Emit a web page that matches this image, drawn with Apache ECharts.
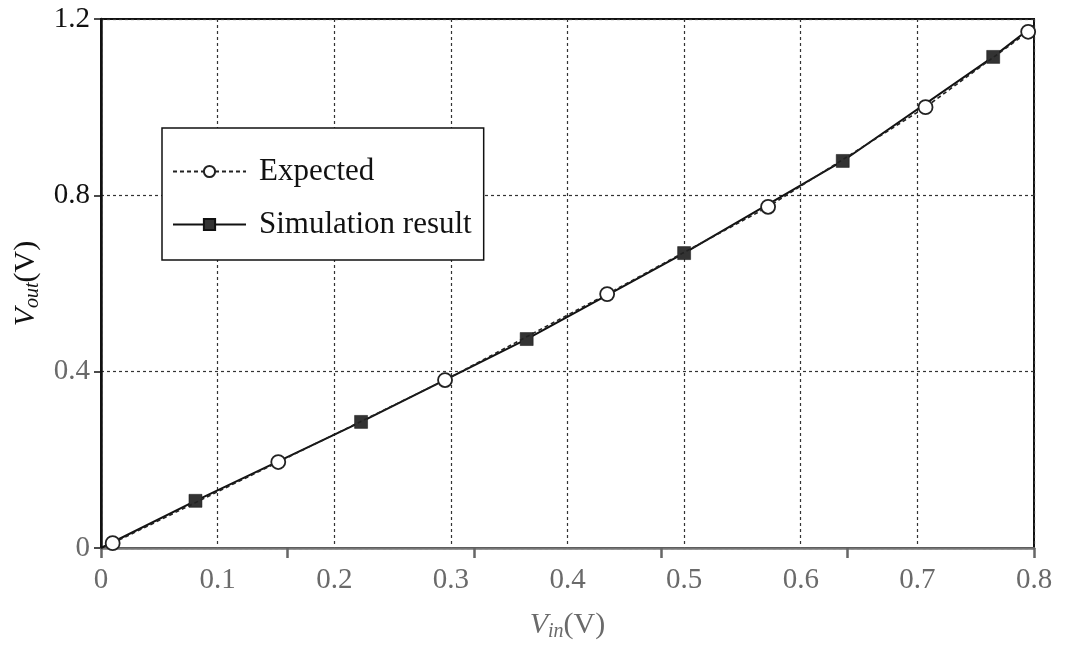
<!DOCTYPE html>
<html>
<head>
<meta charset="utf-8">
<script src="https://cdn.jsdelivr.net/npm/echarts@6/dist/echarts.min.js"></script>
<style>
    html, body { margin: 0; padding: 0; background: #fff; }
    #chart { width: 1067px; height: 645px; }
</style>
</head>
<body>
<div id="chart"></div>
<script>
// values
const expectedVin  = [0.010, 0.152, 0.295, 0.434, 0.572, 0.707, 0.795];
const expectedVout = [0.011, 0.195, 0.381, 0.576, 0.774, 1.000, 1.171];

// first and last points are line ends, no marker
const simVin  = [0.000, 0.081, 0.223, 0.365, 0.500, 0.636, 0.765, 0.800];
const simVout = [0.000, 0.107, 0.286, 0.474, 0.669, 0.878, 1.114, 1.186];

const seriesNames = ['Expected', 'Simulation result'];
const xTicks = [0, 0.1, 0.2, 0.3, 0.4, 0.5, 0.6, 0.7, 0.8];
const yTicks = [0, 0.4, 0.8, 1.2];

const serif = '"Liberation Serif", "DejaVu Serif", serif';
const lowGray = '#6a6a6a';

const toPairs = (xs, ys) => xs.map((x, i) => [x, ys[i]]);

const simData = toPairs(simVin, simVout).map((p, i, arr) =>
    (i === 0 || i === arr.length - 1) ? {value: p, symbol: 'none'} : {value: p});

const nameRich = {
    it: {fontFamily: serif, fontStyle: 'italic', fontSize: 30, color: lowGray},
    sub: {fontFamily: serif, fontStyle: 'italic', fontSize: 20, color: lowGray, padding: [14, 0, 0, 0]},
    n: {fontFamily: serif, fontSize: 30, color: lowGray},
};

const chart = echarts.init(document.getElementById('chart'));
chart.setOption({
    animation: false,
    backgroundColor: '#fff',
    grid: {
        left: 101, right: 33, top: 19, bottom: 97,
        outerBoundsMode: 'none',
        containLabel: false,
        show: true, borderColor: '#111', borderWidth: 2,
    },
    legend: {
        data: seriesNames,
        orient: 'vertical',
        left: 162, top: 128,
        backgroundColor: '#fff',
        borderColor: '#111', borderWidth: 1.5,
        borderRadius: 0,
        padding: [28, 12, 20, 10],
        itemGap: 22,
        itemWidth: 73, itemHeight: 14,
        textStyle: {fontFamily: serif, fontSize: 31, color: '#111', padding: [0, 0, 0, 8]},
    },
    xAxis: [
        {
            type: 'value',
            min: 0, max: 0.8, interval: 0.1,
            name: '{it|V}{sub|in}{n|(V)}',
            nameLocation: 'middle', nameGap: 60,
            nameTextStyle: {rich: nameRich},
            axisLine: {show: true, onZero: false, lineStyle: {color: '#777', width: 2.5}},
            axisTick: {show: false},
            axisLabel: {
                fontFamily: serif, fontSize: 29, color: lowGray, margin: 18,
                formatter: v => xTicks.includes(+v.toFixed(2)) ? String(+v.toFixed(2)) : '',
            },
            splitLine: {show: true, lineStyle: {color: '#333', type: [3, 3], width: 1.2}},
        },
        {
            // odd tick marks under the bottom axis
            type: 'value',
            min: 0, max: 0.8, interval: 0.16,
            position: 'bottom',
            axisLine: {show: false},
            axisTick: {show: true, length: 10, lineStyle: {color: '#666', width: 2.5}},
            axisLabel: {show: false},
            splitLine: {show: false},
        },
    ],
    yAxis: {
        type: 'value',
        min: 0, max: 1.2, interval: 0.4,
        name: '{it|V}{sub|out}{n|(V)}',
        nameLocation: 'middle', nameGap: 58, nameRotate: 90,
        nameTextStyle: {rich: {
            it: {...nameRich.it, color: '#111'},
            sub: {...nameRich.sub, color: '#111'},
            n: {...nameRich.n, color: '#111'},
        }},
        axisLine: {show: true, lineStyle: {color: '#111', width: 2.5}},
        axisTick: {show: true, length: 7, lineStyle: {color: '#111', width: 1.5}},
        axisLabel: {
            fontFamily: serif, fontSize: 29, margin: 11,
            color: v => (v >= 0.8 ? '#111' : lowGray),
            formatter: v => yTicks.includes(+v.toFixed(2)) ? String(+v.toFixed(2)) : '',
        },
        splitLine: {show: true, lineStyle: {color: '#333', type: [3, 3], width: 1.2}},
    },
    series: [
        {
            name: seriesNames[0],
            type: 'line',
            data: toPairs(expectedVin, expectedVout),
            symbol: 'circle', symbolSize: 14,
            itemStyle: {color: '#fff', borderColor: '#222', borderWidth: 1.8},
            lineStyle: {color: '#222', width: 1.6, type: [4, 3]},
            z: 3,
        },
        {
            name: seriesNames[1],
            type: 'line',
            data: simData,
            symbol: 'rect', symbolSize: 13,
            itemStyle: {color: '#333', borderColor: '#111', borderWidth: 0.5},
            lineStyle: {color: '#111', width: 2},
            z: 2,
        },
    ],
});
</script>
</body>
</html>
